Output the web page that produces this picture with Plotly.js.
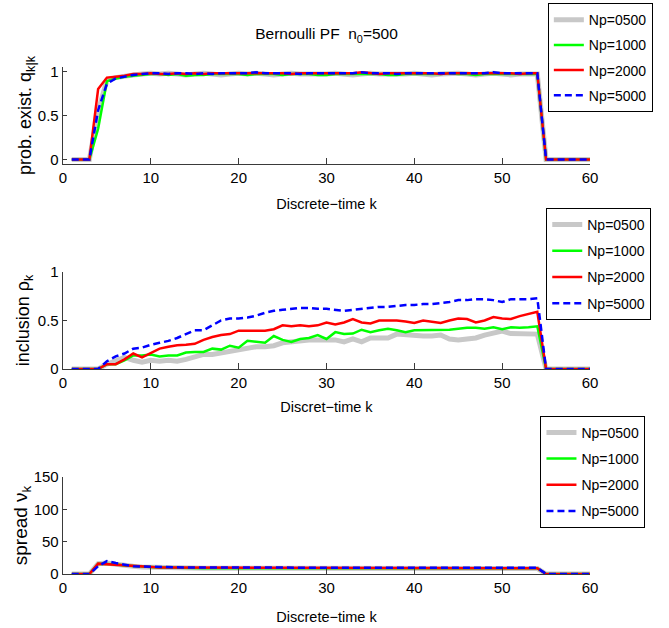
<!DOCTYPE html>
<html>
<head>
<meta charset="utf-8">
<script src="https://cdn.plot.ly/plotly-3.0.1.min.js"></script>
<style>html,body{margin:0;padding:0;background:#fff;}#chart{width:669px;height:628px;}</style>
</head>
<body>
<div id="chart"></div>
<script>
// ---- data ----
const k = [1,2,3,4,5,6,7,8,9,10,11,12,13,14,15,16,17,18,19,20,21,22,23,24,25,26,27,28,29,30,
           31,32,33,34,35,36,37,38,39,40,41,42,43,44,45,46,47,48,49,50,51,52,53,54,55,56,57,58,59,60];
const seriesNames = ["Np=0500","Np=1000","Np=2000","Np=5000"];
const xTicks = [0,10,20,30,40,50,60];

// probability of existence q_{k|k}
const q0500 = [0,0,0,0.55,0.90,0.93,0.95,0.96,0.97,0.98,
  0.97,0.98,0.97,0.96,0.97,0.98,0.97,0.96,0.97,0.98,0.97,0.98,0.97,0.96,0.97,0.98,0.97,0.97,0.96,0.97,
  0.98,0.97,0.96,0.97,0.98,0.97,0.97,0.96,0.97,0.98,0.97,0.96,0.97,0.98,0.98,0.97,0.96,0.97,0.98,0.97,
  0.96,0.97,0.97,0.97,0,0,0,0,0,0];
const q1000 = [0,0,0,0.35,0.89,0.92,0.94,0.95,0.96,0.97,
  0.97,0.96,0.97,0.95,0.96,0.96,0.97,0.97,0.97,0.97,0.96,0.97,0.97,0.97,0.96,0.97,0.97,0.97,0.96,0.96,
  0.97,0.97,0.97,0.97,0.97,0.97,0.96,0.96,0.97,0.97,0.97,0.97,0.97,0.98,0.97,0.97,0.96,0.97,0.97,0.97,
  0.97,0.97,0.97,0.97,0,0,0,0,0,0];
const q2000 = [0,0,0,0.80,0.93,0.94,0.95,0.97,0.97,0.98,
  0.97,0.97,0.98,0.97,0.98,0.97,0.98,0.98,0.98,0.98,0.98,0.98,0.98,0.98,0.98,0.97,0.98,0.98,0.98,0.98,
  0.98,0.98,0.98,0.99,0.98,0.97,0.98,0.98,0.98,0.98,0.98,0.98,0.97,0.98,0.98,0.98,0.98,0.98,0.98,0.98,
  0.98,0.97,0.98,0.98,0,0,0,0,0,0];
const q5000 = [0,0,0,0.56,0.86,0.92,0.94,0.96,0.97,0.98,
  0.98,0.97,0.98,0.98,0.97,0.98,0.97,0.98,0.98,0.98,0.98,0.99,0.98,0.98,0.98,0.98,0.97,0.98,0.98,0.98,
  0.98,0.98,0.98,0.99,0.98,0.98,0.98,0.97,0.98,0.98,0.98,0.98,0.98,0.98,0.98,0.98,0.98,0.98,0.99,0.98,
  0.98,0.98,0.98,0.98,0,0,0,0,0,0];

// inclusion rho_k
const rho0500 = [0,0,0,0,0.05,0.08,0.12,0.09,0.07,0.09,
  0.08,0.09,0.08,0.10,0.12,0.15,0.15,0.165,0.185,0.20,0.22,0.23,0.23,0.24,0.27,0.28,0.30,0.30,0.30,0.30,
  0.30,0.28,0.31,0.28,0.32,0.32,0.32,0.36,0.35,0.35,0.34,0.34,0.35,0.31,0.30,0.31,0.32,0.35,0.37,0.39,
  0.365,0.36,0.36,0.36,0,0,0,0,0,0];
const rho1000 = [0,0,0,0,0.05,0.05,0.09,0.14,0.14,0.15,
  0.13,0.14,0.14,0.17,0.175,0.175,0.21,0.20,0.24,0.22,0.29,0.28,0.27,0.34,0.30,0.28,0.31,0.32,0.35,0.31,
  0.38,0.36,0.365,0.405,0.38,0.40,0.415,0.40,0.38,0.40,0.40,0.40,0.405,0.405,0.415,0.425,0.425,0.415,0.43,0.41,
  0.43,0.425,0.43,0.44,0,0,0,0,0,0];
const rho2000 = [0,0,0,0,0.05,0.05,0.10,0.16,0.12,0.165,
  0.21,0.23,0.245,0.25,0.26,0.30,0.33,0.35,0.36,0.395,0.395,0.395,0.395,0.41,0.45,0.44,0.45,0.44,0.45,0.48,
  0.46,0.48,0.515,0.48,0.47,0.50,0.50,0.50,0.49,0.475,0.50,0.49,0.475,0.50,0.52,0.515,0.48,0.50,0.535,0.52,
  0.515,0.545,0.57,0.59,0,0,0,0,0,0];
const rho5000 = [0,0,0,0,0.08,0.13,0.16,0.21,0.22,0.25,
  0.27,0.29,0.32,0.36,0.40,0.40,0.45,0.50,0.52,0.52,0.53,0.55,0.58,0.60,0.61,0.62,0.63,0.63,0.62,0.62,
  0.61,0.60,0.61,0.62,0.63,0.64,0.64,0.65,0.66,0.66,0.67,0.67,0.68,0.69,0.71,0.71,0.72,0.72,0.71,0.69,
  0.72,0.72,0.72,0.73,0,0,0,0,0,0];

// spread nu_k
const nu0500 = [0,0,0,16,17,15,13,12,11,10.5,
  10,10,9.5,9.5,9,9,9,9,8.5,8.5,8.5,8.5,8.5,8.5,8.5,8.5,8.5,8.5,8.5,8.5,
  8.5,8.5,8.5,8.5,8.5,8.5,8.5,8.5,8.5,8.5,8.5,8.5,8.5,8.5,8.5,8.5,8.5,8.5,8.5,8.5,
  8.5,8.5,8.5,8.5,0,0,0,0,0,0];
const nu1000 = [0,0,0,16,16,15,13,12,11,10.5,
  10,10,9.5,9.5,9,9,9,9,9,9,9,9,9,9,9,9,9,9,9,9,
  9,9,9,9,9,9,9,9,9,9,9,9,9,9,9,9,9,9,9,9,
  9,9,9,9,0,0,0,0,0,0];
const nu2000 = [0,0,0,16,15,14,13,12,11,10.5,
  10,10,10,9.5,9.5,9.5,9,9,9,9,9,9,9,9,9,9,9,9,9,9,
  9,9,9,9,9,9,9,9,9,9,9,9,9,9,9,9,9,9,9,9,
  9,9,9,9,0,0,0,0,0,0];
const nu5000 = [0,0,0,12,20,17,14,12,11.5,11,
  10.5,10.5,10,10,10,10,10,9.5,9.5,9.5,9.5,9.5,9.5,9.5,9.5,9.5,9.5,9.5,9.5,9.5,
  9.5,9.5,9.5,9.5,9.5,9.5,9.5,9.5,9.5,9.5,9.5,9.5,9.5,9.5,9.5,9.5,9.5,9.5,9.5,9.5,
  9.5,9.5,9.5,9.5,0,0,0,0,0,0];

const qTicks = [0,0.5,1], qTickText = ["0","0.5","1"];
const rhoTicks = [0,0.5,1], rhoTickText = ["0","0.5","1"];
const nuTicks = [0,50,100,150], nuTickText = ["0","50","100","150"];

// ---- styling ----
const SANS = "'Liberation Sans',Arial,Helvetica,sans-serif";
const styles = [
  {color:'#c8c8c8', width:5, dash:'solid'},
  {color:'#00ff00', width:2.5, dash:'solid'},
  {color:'#ff0000', width:2.5, dash:'solid'},
  {color:'#0000ff', width:2.5, dash:'7px,4px'}
];
const panels = [
  {data:[q0500,q1000,q2000,q5000], xa:'x', ya:'y', legend:'legend'},
  {data:[rho0500,rho1000,rho2000,rho5000], xa:'x2', ya:'y2', legend:'legend2'},
  {data:[nu0500,nu1000,nu2000,nu5000], xa:'x3', ya:'y3', legend:'legend3'}
];
const traces = [];
panels.forEach((p,pi)=>{
  p.data.forEach((vals,si)=>{
    traces.push({
      x:k, y:vals, xaxis:p.xa, yaxis:p.ya, type:'scatter', mode:'lines',
      name:seriesNames[si], legend:p.legend, legendgroup:'g'+pi+'_'+si,
      line:{color:styles[si].color, width:styles[si].width, dash:styles[si].dash},
      hoverinfo:'skip'
    });
  });
});

const AX = '#3a3a3a';
function xaxis(anchor, title, standoff){
  return {anchor:anchor, domain:[0,1], range:[0,60], showline:true, linecolor:AX, linewidth:1.3,
    ticks:'inside', ticklen:6, tickcolor:AX, tickwidth:1, tickvals:xTicks, ticktext:xTicks.map(String),
    showgrid:false, zeroline:false, tickfont:{family:SANS, size:15, color:'#000'},
    title:{text:title, font:{family:SANS, size:14.5, color:'#000'}, standoff:standoff}};
}
function yaxis(anchor, domain, range, tv, tt, title, tsize, standoff){
  return {anchor:anchor, domain:domain, range:range, showline:true, linecolor:AX, linewidth:1.3,
    ticks:'inside', ticklen:4, tickcolor:AX, tickwidth:1, tickvals:tv, ticktext:tt,
    showgrid:false, zeroline:false, tickfont:{family:SANS, size:15, color:'#000'},
    title:{text:title, font:{family:SANS, size:tsize, color:'#000'}, standoff:standoff}};
}
function legendBox(x, y, gap){
  return {x:x, y:y, xanchor:'left', yanchor:'top', xref:'paper', yref:'paper',
    bgcolor:'#fff', bordercolor:'#000', borderwidth:1, tracegroupgap:gap,
    font:{family:SANS, size:14, color:'#000'}, itemwidth:30};
}

const layout = {
  width:669, height:628,
  margin:{l:63, r:79, t:67, b:54, autoexpand:false},
  paper_bgcolor:'#fff', plot_bgcolor:'#fff',
  showlegend:true,
  title:{text:'Bernoulli PF\u00a0\u00a0n<sub>0</sub>=500', x:0.5, xref:'paper', y:0.946, yref:'container',
         xanchor:'center', yanchor:'middle', font:{family:SANS, size:15.5, color:'#000'}},
  xaxis: xaxis('y','Discrete\u2212time k', 13),
  xaxis2: xaxis('y2','Discret\u2212time k', 11),
  xaxis3: xaxis('y3','Discrete\u2212time k', 16),
  yaxis: yaxis('x',[0.8087,1],[-0.05,1.05],qTicks,qTickText,'prob. exist. q<sub>k|k</sub>',18, 1),
  yaxis2: yaxis('x2',[0.4043,0.5957],[0,1],rhoTicks,rhoTickText,'inclusion \u03c1<sub>k</sub>',18, 3),
  yaxis3: yaxis('x3',[0,0.1913],[0,150],nuTicks,nuTickText,'spread \u03bd<sub>k</sub>',19, 0),
  legend: legendBox(0.920, 1.126, 4),
  legend2: legendBox(0.917, 0.722, 5),
  legend3: legendBox(0.906, 0.312, 5)
};

Plotly.newPlot('chart', traces, layout, {displayModeBar:false, staticPlot:true});
</script>
</body>
</html>
